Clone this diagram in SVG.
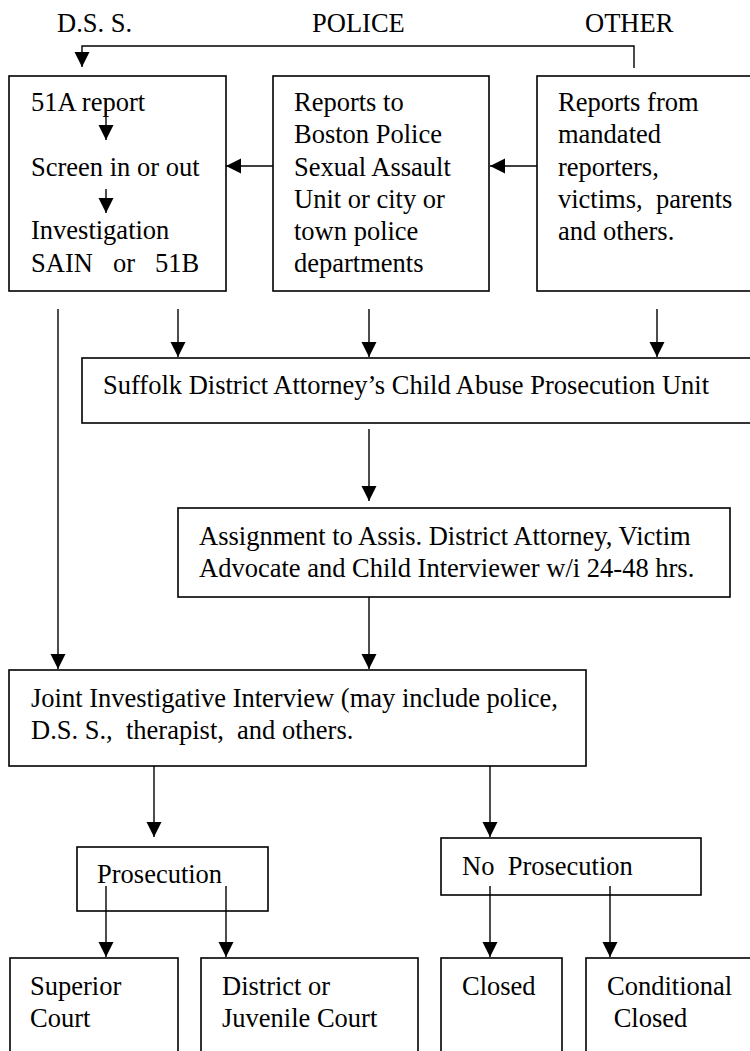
<svg xmlns="http://www.w3.org/2000/svg" width="750" height="1051" viewBox="0 0 750 1051">
<style>
text{font-family:"Liberation Serif","Times New Roman",serif;font-size:26.5px;fill:#000;white-space:pre}
.box{fill:#fff;stroke:#000;stroke-width:1.6}
.ln{fill:none;stroke:#000;stroke-width:1.4}
.ar{fill:none;stroke:#000;stroke-width:1.4;marker-end:url(#ah)}
</style>
<defs>
<marker id="ah" markerUnits="userSpaceOnUse" markerWidth="16" markerHeight="16" refX="15" refY="7.5" orient="auto">
<path d="M0,0 L15,7.5 L0,15 z" fill="#000"/>
</marker>
</defs>
<rect width="750" height="1051" fill="#fff"/>
<g id="headers">
<text x="57" y="32">D.S. S.</text>
<text x="312" y="32">POLICE</text>
<text x="585" y="32">OTHER</text>
</g>
<g id="connectors">
<polyline class="ar" points="634,68 634,46 82,46 82,67"/>
<line class="ar" x1="106" y1="100" x2="106" y2="140"/>
<line class="ar" x1="106" y1="189" x2="106" y2="213"/>
<line class="ar" x1="273" y1="166" x2="226" y2="166"/>
<line class="ar" x1="537" y1="166" x2="490" y2="166"/>
<line class="ar" x1="178" y1="309" x2="178" y2="357"/>
<line class="ar" x1="369" y1="309" x2="369" y2="357"/>
<line class="ar" x1="657" y1="309" x2="657" y2="357"/>
<line class="ar" x1="58" y1="309" x2="58" y2="669"/>
<line class="ar" x1="369" y1="429" x2="369" y2="501"/>
<line class="ar" x1="369" y1="597" x2="369" y2="669"/>
<line class="ar" x1="154" y1="766" x2="154" y2="837"/>
<line class="ar" x1="490" y1="766" x2="490" y2="837"/>
<line class="ar" x1="106" y1="886" x2="106" y2="957"/>
<line class="ar" x1="226" y1="886" x2="226" y2="957"/>
<line class="ar" x1="490" y1="886" x2="490" y2="957"/>
<line class="ar" x1="610" y1="886" x2="610" y2="957"/>
</g>
<g id="dss">
<rect class="box" x="9" y="76" width="217" height="215" style="fill:none"/>
<text x="31" y="111">51A report</text>
<text x="31" y="176">Screen in or out</text>
<text x="31" y="239">Investigation</text>
<text x="31" y="272">SAIN<tspan x="113">or</tspan><tspan x="155">51B</tspan></text>
</g>
<g id="police">
<rect class="box" x="273" y="76" width="216" height="215"/>
<text x="294" y="111">Reports to</text>
<text x="294" y="143">Boston Police</text>
<text x="294" y="176">Sexual Assault</text>
<text x="294" y="208">Unit or city or</text>
<text x="294" y="240">town police</text>
<text x="294" y="272">departments</text>
</g>
<g id="other">
<rect class="box" x="537" y="76" width="220" height="215"/>
<text x="558" y="111">Reports from</text>
<text x="558" y="143">mandated</text>
<text x="558" y="176">reporters,</text>
<text x="558" y="208">victims,  parents</text>
<text x="558" y="240">and others.</text>
</g>
<g id="suffolk">
<rect class="box" x="82" y="358" width="675" height="65"/>
<text x="103" y="394">Suffolk District Attorney’s Child Abuse Prosecution Unit</text>
</g>
<g id="assignment">
<rect class="box" x="178" y="508" width="552" height="89"/>
<text x="199" y="545">Assignment to Assis. District Attorney, Victim</text>
<text x="199" y="577">Advocate and Child Interviewer w/i 24-48 hrs.</text>
</g>
<g id="joint">
<rect class="box" x="9" y="670" width="577" height="96"/>
<text x="31" y="707">Joint Investigative Interview (may include police,</text>
<text x="31" y="739">D.S. S.,  therapist,  and others.</text>
</g>
<g id="prosecution">
<rect class="box" x="77" y="847" width="191" height="64" style="fill:none"/>
<text x="97" y="883">Prosecution</text>
</g>
<g id="noprosecution">
<rect class="box" x="441" y="838" width="260" height="57" style="fill:none"/>
<text x="462" y="875">No  Prosecution</text>
</g>
<g id="superior">
<rect class="box" x="10" y="958" width="168" height="110"/>
<text x="30" y="995">Superior</text>
<text x="30" y="1027">Court</text>
</g>
<g id="district">
<rect class="box" x="201" y="958" width="217" height="110"/>
<text x="222" y="995">District or</text>
<text x="222" y="1027">Juvenile Court</text>
</g>
<g id="closed">
<rect class="box" x="441" y="958" width="121" height="110"/>
<text x="462" y="995">Closed</text>
</g>
<g id="conditional">
<rect class="box" x="586" y="958" width="180" height="110"/>
<text x="607" y="995">Conditional</text>
<text x="607" y="1027"> Closed</text>
</g>
</svg>
